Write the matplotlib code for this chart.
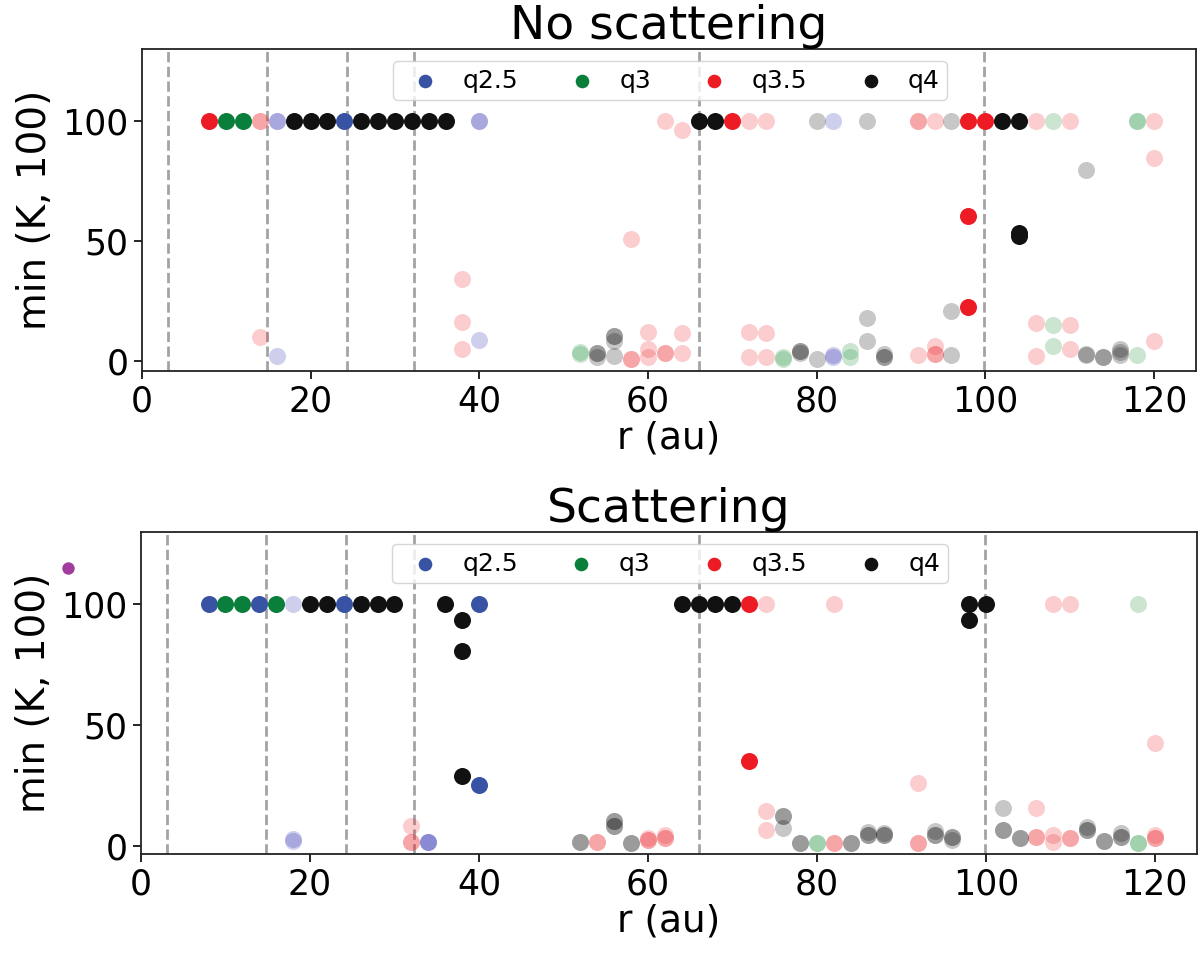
import numpy as np
import matplotlib
matplotlib.use('Agg')
import matplotlib.pyplot as plt

# Series labels and colours
labels = ['q2.5', 'q3', 'q3.5', 'q4']
colors = ['#3953a4', '#0a7f3c', '#ed1c24', '#111111']
faded_colors = ['#2323af', '#138a30', '#ed1c24', '#000000']

# Dashed reference radii (au)
ring_r = [3.1, 14.8, 24.3, 32.3, 66.0, 99.9]

# ---- No scattering: opaque (well constrained) points ----
ns_r_q25 = [24]
ns_k_q25 = [100]
ns_r_q3 = [10, 12]
ns_k_q3 = [100, 100]
ns_r_q35 = [8, 70, 98, 100, 98, 98]
ns_k_q35 = [100, 100, 100, 100, 60.6, 22.5]
ns_r_q4 = [18, 20, 22, 26, 28, 30, 32, 34, 36, 66, 68, 102, 104, 104, 104]
ns_k_q4 = [100, 100, 100, 100, 100, 100, 100, 100, 100, 100, 100, 100, 100, 52.0, 53.5]

# ---- No scattering: faded points ----
ns_rf_q25 = [16, 16, 16, 40, 40, 40, 82, 82, 82]
ns_kf_q25 = [100, 100, 2.2, 100, 100, 8.7, 100, 2.5, 2.0]
ns_rf_q3 = [52, 52, 76, 76, 84, 84, 108, 108, 108, 118, 118, 118]
ns_kf_q3 = [2.9, 4.0, 1.2, 1.8, 2.0, 4.5, 100, 15.3, 6.5, 100, 100, 2.5]
ns_rf_q35 = [14, 14, 14, 38, 38, 38, 58, 58, 58, 60, 60, 60, 62, 62, 62, 64, 64, 64,
             72, 72, 72, 74, 74, 74, 92, 92, 92, 94, 94, 94, 94, 106, 106, 106,
             110, 110, 110, 120, 120, 120]
ns_kf_q35 = [100, 100, 10.1, 34.4, 16.3, 5.0, 51.0, 1.1, 1.1, 12.3, 5.0, 2.0, 100, 3.6, 3.6,
             96.3, 11.9, 3.6, 100, 12.3, 1.8, 100, 12.0, 1.8, 100, 100, 2.5,
             100, 6.4, 2.9, 2.9, 100, 16.0, 2.2, 100, 15.3, 5.2, 100, 84.5, 8.4]
ns_rf_q4 = [54, 54, 54, 56, 56, 56, 56, 78, 78, 78, 80, 80, 86, 86, 86, 88, 88, 88,
            96, 96, 96, 112, 112, 112, 114, 114, 116, 116, 116]
ns_kf_q4 = [3.6, 3.6, 2.0, 10.5, 10.5, 8.5, 2.2, 4.5, 4.5, 3.5, 100, 1.2, 100, 18.0, 8.4,
            1.8, 1.8, 3.0, 100, 20.9, 2.5, 79.7, 2.5, 3.2, 1.8, 1.8, 3.8, 2.5, 5.0]

# ---- Scattering: opaque points ----
sc_r_q25 = [8, 14, 24, 40, 40]
sc_k_q25 = [100, 100, 100, 100, 25.5]
sc_r_q3 = [10, 12, 16]
sc_k_q3 = [100, 100, 100]
sc_r_q35 = [72, 72]
sc_k_q35 = [100, 35.1]
sc_r_q4 = [20, 22, 26, 28, 30, 36, 38, 38, 38, 64, 66, 68, 70, 98, 98, 100]
sc_k_q4 = [100, 100, 100, 100, 100, 100, 93.5, 80.7, 29.2, 100, 100, 100, 100, 100, 93.5, 100]

# ---- Scattering: faded points ----
sc_rf_q25 = [18, 18, 18, 34, 34, 34]
sc_kf_q25 = [100, 2.1, 2.9, 1.7, 1.7, 1.7]
sc_rf_q3 = [80, 80, 118, 118, 118]
sc_kf_q3 = [1.3, 1.3, 100, 1.3, 1.3]
sc_rf_q35 = [32, 32, 32, 54, 54, 60, 60, 60, 62, 62, 62, 74, 74, 74, 82, 82, 82,
             92, 92, 92, 106, 106, 106, 108, 108, 108, 110, 110, 110, 120, 120, 120, 120]
sc_kf_q35 = [8.3, 1.7, 1.7, 1.7, 1.7, 2.6, 2.6, 3.5, 3.3, 3.3, 4.6, 100, 14.6, 6.9,
             100, 1.3, 1.3, 26.1, 1.3, 1.3, 15.8, 3.8, 3.8, 100, 4.6, 1.7,
             100, 3.3, 3.3, 42.9, 3.3, 3.3, 4.6]
sc_rf_q4 = [52, 52, 56, 56, 56, 56, 58, 58, 76, 76, 76, 78, 78, 84, 84, 86, 86, 86,
            88, 88, 88, 94, 94, 94, 96, 96, 96, 102, 102, 102, 104, 104,
            112, 112, 112, 114, 114, 116, 116, 116]
sc_kf_q4 = [1.7, 1.7, 10.3, 10.3, 8.5, 8.5, 1.3, 1.3, 12.4, 12.4, 7.5, 1.3, 1.3, 1.3, 1.3,
            4.8, 4.8, 6.0, 4.8, 4.8, 5.5, 6.5, 4.5, 4.5, 4.0, 4.0, 2.6, 15.8, 6.9, 6.9,
            3.3, 3.3, 6.9, 6.9, 8.0, 2.0, 2.0, 3.8, 3.8, 5.5]

# Stray point outside the lower panel
stray_r = [-8.6]
stray_k = [115]

panels = [
    ('No scattering',
     [(ns_r_q25, ns_k_q25), (ns_r_q3, ns_k_q3), (ns_r_q35, ns_k_q35), (ns_r_q4, ns_k_q4)],
     [(ns_rf_q25, ns_kf_q25), (ns_rf_q3, ns_kf_q3), (ns_rf_q35, ns_kf_q35), (ns_rf_q4, ns_kf_q4)],
     (-4, 130)),
    ('Scattering',
     [(sc_r_q25, sc_k_q25), (sc_r_q3, sc_k_q3), (sc_r_q35, sc_k_q35), (sc_r_q4, sc_k_q4)],
     [(sc_rf_q25, sc_kf_q25), (sc_rf_q3, sc_kf_q3), (sc_rf_q35, sc_kf_q35), (sc_rf_q4, sc_kf_q4)],
     (-3.2, 130)),
]

fig = plt.figure(figsize=(12, 9.55), dpi=100)
fig.patch.set_facecolor('white')
ax_top = fig.add_axes([0.1183, 0.6115, 0.8784, 0.3372])
ax_bot = fig.add_axes([0.1175, 0.1058, 0.8800, 0.3372])

dot = 150

for ax, (title, solid, faded, ylim) in zip([ax_top, ax_bot], panels):
    for x in ring_r:
        ax.axvline(x, color='#8c8c8c', linestyle='--', linewidth=2, alpha=0.8, zorder=1)

    # faded points first, then solid ones on top
    for (r, k), c in zip(faded, faded_colors):
        ax.scatter(r, k, s=dot, color=c, alpha=0.22, linewidths=0, zorder=2)
    for (r, k), c, lab in zip(solid, colors, labels):
        ax.scatter(r, k, s=dot, color=c, linewidths=0, zorder=3, label=lab)

    ax.set_xlim(0, 125)
    ax.set_ylim(*ylim)
    ax.set_xticks(np.arange(0, 121, 20))
    ax.set_yticks([0, 50, 100])
    ax.tick_params(axis='both', labelsize=25, length=6, width=1.2)
    for sp in ax.spines.values():
        sp.set_linewidth(1.3)
        sp.set_color('#222222')
    ax.set_title(title, fontsize=34, pad=4)
    ax.set_xlabel('r (au)', fontsize=27, labelpad=2)
    ax.set_ylabel('min (K, 100)', fontsize=28, labelpad=6)

    ax.legend(ncol=4, loc='upper center', bbox_to_anchor=(0.226, 0, 0.550, 1),
              mode='expand', fontsize=18, markerscale=0.8, handletextpad=0.5,
              borderpad=0.3, borderaxespad=0.5)

ax_bot.scatter(stray_r, stray_k, s=80, color='#a23c9e', linewidths=0, clip_on=False, zorder=4)

fig.savefig('out.png', dpi=100)
